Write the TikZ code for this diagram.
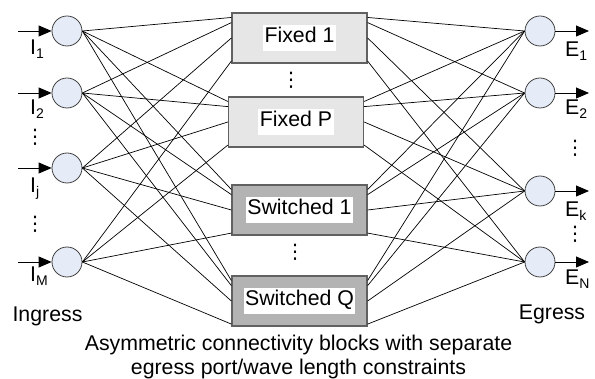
\documentclass[tikz,border=0pt]{standalone}
\usepackage{fontspec}
\setmainfont{Liberation Sans}
\newfontfamily\symfont{DejaVu Sans}
\usetikzlibrary{arrows.meta,calc}
\definecolor{circfill}{RGB}{230,236,247}
\definecolor{fixfill}{RGB}{230,230,230}
\definecolor{swfill}{RGB}{179,179,179}
\setlength{\fboxsep}{1.5pt}
\newcommand{\subtxt}[1]{\raisebox{-4pt}{\fontsize{14}{14}\selectfont #1}}
\newcommand{\boxtxt}[1]{\colorbox{white}{\rule[-6.5pt]{0pt}{23pt}#1}}
\begin{document}
\begin{tikzpicture}[x=1pt,y=-1pt,
  port/.style={circle,draw=black!75,fill=circfill,line width=0.8pt,minimum size=30pt,inner sep=0pt},
  blk/.style={rectangle,draw=black!62,line width=1.3pt,minimum width=135pt,minimum height=50pt,inner sep=0pt,font=\fontsize{21.3}{25}\selectfont},
  fixedblk/.style={blk,fill=fixfill},
  switchblk/.style={blk,fill=swfill},
  lbl/.style={font=\fontsize{21.3}{25}\selectfont,inner sep=0pt},
  link/.style={draw=black,line width=0.7pt},
  arr/.style={-{Triangle[length=13pt,width=11pt]},line width=0.8pt},
  dotsty/.style={font=\symfont\fontsize{20}{20}\selectfont,inner sep=0pt}
]
\useasboundingbox (0,0) rectangle (595,379);

% ports
\node[port] (I1) at (67,31) {};
\node[port] (I2) at (67,93) {};
\node[port] (I3) at (67,168) {};
\node[port] (I4) at (67,262) {};
\node[port] (E1) at (540,31) {};
\node[port] (E2) at (540,93) {};
\node[port] (E3) at (540,191) {};
\node[port] (E4) at (540,262) {};

% blocks
\node[fixedblk] (B1) at (299.5,38) {\boxtxt{Fixed 1}};
\node[fixedblk] (B2) at (296,122) {\boxtxt{Fixed P}};
\node[switchblk] (B3) at (299.5,210) {\boxtxt{Switched 1}};
\node[switchblk] (B4) at (299.5,301) {\boxtxt{Switched Q}};

% links
\foreach \k/\f in {1/0.1,2/0.2,3/0.5,4/0.95}{
  \foreach \b in {1,2,3,4}{
    \draw[link] (I\k.east) -- ($(B\b.north west)!\f!(B\b.south west)$);
    \draw[link] ($(B\b.north east)!\f!(B\b.south east)$) -- (E\k.west);
  }
}

% input / output arrows
\foreach \k/\y in {1/31,2/93,3/168,4/262}{
  \coordinate (ii\k) at (18,\y);
  \draw[arr] (ii\k) -- (I\k.west);
}
\foreach \k/\y in {1/31,2/93,3/191,4/262}{
  \coordinate (eo\k) at (589,\y);
  \draw[arr] (E\k.east) -- (eo\k);
}

% port labels
\node[lbl,anchor=base west] (lI1) at (30,55) {I\subtxt{1}};
\node[lbl,anchor=base west] (lI2) at (30,115) {I\subtxt{2}};
\node[lbl,anchor=base west] (lI3) at (30,193) {I\subtxt{j}};
\node[lbl,anchor=base west] (lI4) at (30,282) {I\subtxt{M}};
\node[lbl,anchor=base west] (lE1) at (565,57) {E\subtxt{1}};
\node[lbl,anchor=base west] (lE2) at (565,115) {E\subtxt{2}};
\node[lbl,anchor=base west] (lE3) at (565,217) {E\subtxt{k}};
\node[lbl,anchor=base west] (lE4) at (565,285) {E\subtxt{N}};

% dots
\node[dotsty] (d1) at (35,137) {⋮};
\node[dotsty] (d2) at (35,224) {⋮};
\node[dotsty] (d3) at (291,80) {⋮};
\node[dotsty] (d4) at (295,252) {⋮};
\node[dotsty] (d5) at (575,148) {⋮};
\node[dotsty] (d6) at (575,234) {⋮};

% texts
\node[lbl,anchor=base] (ing) at (47.5,322) {Ingress};
\node[lbl,anchor=base] (egr) at (552,320) {Egress};
\node[lbl,anchor=base] (cap1) at (298.5,351) {Asymmetric connectivity blocks with separate};
\node[lbl,anchor=base] (cap2) at (298.5,375) {egress port/wave length constraints};
\end{tikzpicture}
\end{document}
